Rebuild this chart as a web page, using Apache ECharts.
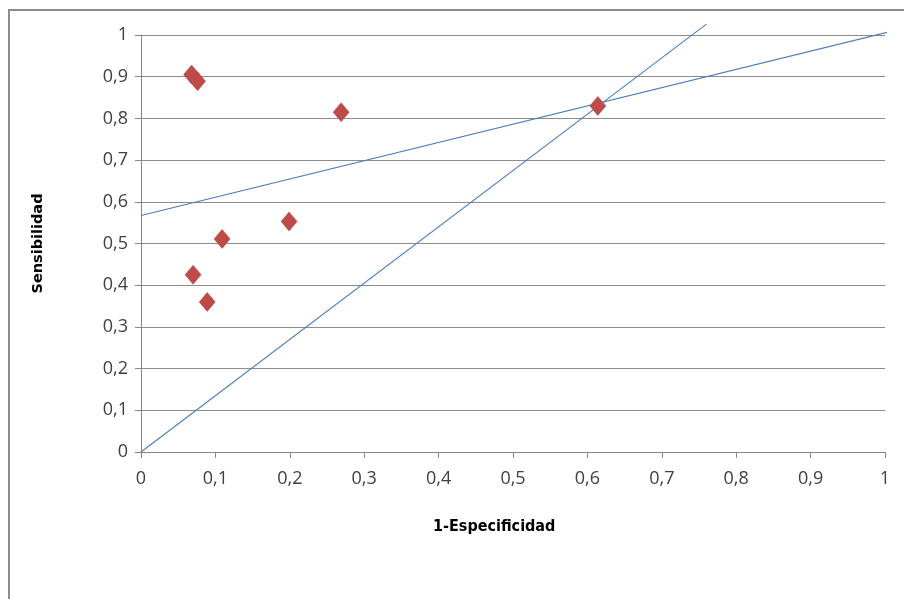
<!DOCTYPE html>
<html>
<head>
<meta charset="utf-8">
<script src="https://cdn.jsdelivr.net/npm/echarts@6/dist/echarts.min.js"></script>
<style>html,body{margin:0;padding:0;background:#fff;}#c{width:904px;height:599px;}</style>
</head>
<body>
<div id="c"></div>
<script>
// Data
var specificity1 = [0.068, 0.076, 0.269, 0.614, 0.199, 0.109, 0.070, 0.089];
var sensitivity = [0.905, 0.889, 0.815, 0.830, 0.553, 0.511, 0.425, 0.360];
var line1X = [0, 0.76];
var line1Y = [0, 1.026];
var line2X = [0, 1.004];
var line2Y = [0.567, 1.007];
var xTicks = [0, 0.1, 0.2, 0.3, 0.4, 0.5, 0.6, 0.7, 0.8, 0.9, 1];
var yTicks = [0, 0.1, 0.2, 0.3, 0.4, 0.5, 0.6, 0.7, 0.8, 0.9, 1];
var xTitle = '1-Especificidad';
var yTitle = 'Sensibilidad';

function pairs(xs, ys) { return xs.map(function (x, i) { return [x, ys[i]]; }); }
function fmt(v) { return String(Math.round(v * 10) / 10).replace('.', ','); }

var FONT = "'Open Sans', sans-serif";
var chart = echarts.init(document.getElementById('c'), null, { renderer: 'canvas' });
chart.setOption({
  animation: false,
  backgroundColor: '#ffffff',
  grid: { left: 141, top: 35, right: 19, bottom: 147 },
  xAxis: {
    type: 'value', min: 0, max: 1, interval: 0.1,
    axisLine: { show: true, onZero: false, lineStyle: { color: '#868686', width: 1 } },
    axisTick: { show: true, length: 6, lineStyle: { color: '#868686' } },
    splitLine: { show: false },
    axisLabel: { margin: 18, color: '#404040', fontSize: 18, fontFamily: FONT, formatter: fmt }
  },
  yAxis: {
    type: 'value', min: 0, max: 1, interval: 0.1,
    name: yTitle, nameLocation: 'middle', nameGap: 95, nameRotate: 90,
    nameTextStyle: { color: '#000', fontSize: 14.5, fontWeight: 'bold', fontFamily: "'DejaVu Sans', sans-serif" },
    axisLine: { show: true, lineStyle: { color: '#868686', width: 1 } },
    axisTick: { show: true, length: 6, lineStyle: { color: '#868686' } },
    splitLine: { show: true, lineStyle: { color: '#8c8c8c', width: 1 } },
    axisLabel: { margin: 13, color: '#404040', fontSize: 18, fontFamily: FONT, formatter: fmt }
  },
  graphic: [
    { type: 'polyline', shape: { points: [[9, 599], [9, 10], [904, 10]] }, style: { stroke: '#8c8c8c', lineWidth: 2, fill: null } },
    { type: 'text', left: 433, top: 519, style: { text: xTitle, fill: '#000', font: "bold 16px 'DejaVu Sans Condensed', 'DejaVu Sans', sans-serif" } }
  ],
  series: [
    { type: 'line', data: pairs(line1X, line1Y), showSymbol: false, clip: false, lineStyle: { color: '#4a7ebb', width: 1.1 }, z: 2 },
    { type: 'line', data: pairs(line2X, line2Y), showSymbol: false, clip: false, lineStyle: { color: '#4a7ebb', width: 1.1 }, z: 2 },
    { type: 'scatter', data: pairs(specificity1, sensitivity), symbol: 'diamond', symbolSize: [16, 19], itemStyle: { color: '#be4b48', opacity: 1, borderColor: '#b3403d', borderWidth: 0.5 }, z: 3 }
  ]
});
</script>
</body>
</html>
